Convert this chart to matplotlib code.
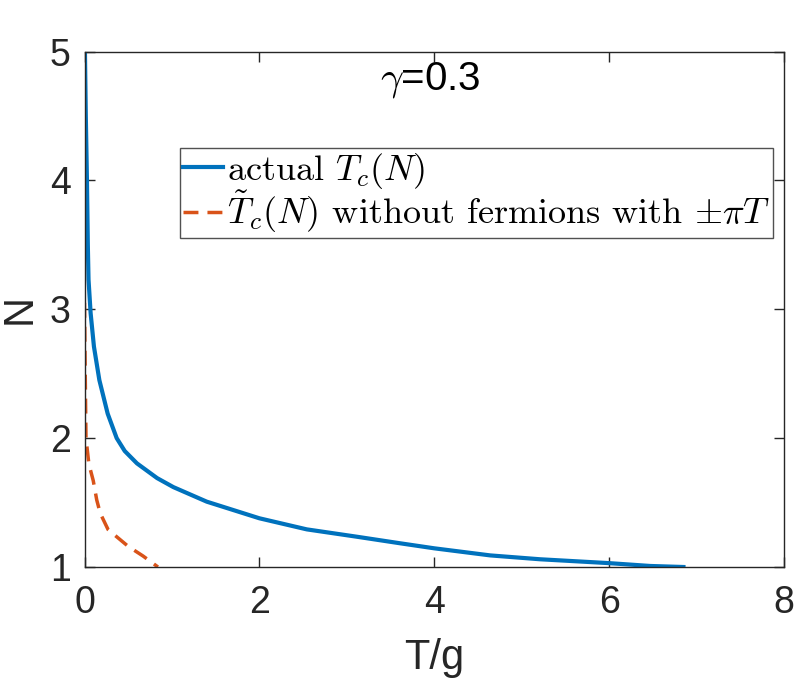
import matplotlib
matplotlib.use("Agg")
import matplotlib.pyplot as plt

plt.rcParams['mathtext.fontset'] = 'cm'
plt.rcParams['font.family'] = ['Liberation Sans', 'DejaVu Sans']
plt.rcParams['axes.unicode_minus'] = False

# Data
actual_N = [5.0, 4.5, 4.0, 3.5, 3.23, 2.97, 2.71, 2.45, 2.19, 2.0, 1.9, 1.804, 1.69, 1.62, 1.507,
            1.378, 1.292, 1.235, 1.184, 1.145, 1.09, 1.06, 1.03, 1.008, 1.0]
actual_T = [0.005, 0.015, 0.028, 0.038, 0.046, 0.07, 0.108, 0.17, 0.265, 0.368, 0.46, 0.6, 0.83, 1.016, 1.398,
            2.0, 2.542, 3.114, 3.61, 4.0, 4.64, 5.21, 6.0, 6.47, 6.85]

tilde_N = [3.05, 2.7, 2.4, 2.0, 1.8, 1.67, 1.52, 1.417, 1.29, 1.16, 1.085, 1.0]
tilde_T = [0.0, 0.005, 0.01, 0.017, 0.05, 0.1, 0.14, 0.18, 0.27, 0.5, 0.67, 0.84]

labels = [r'actual $T_c(N)$',
          r'$\tilde{T}_c(N)$ without fermions with ${\pm}\pi T$']
title_text = r'$\gamma$=0.3'
xticks = [0, 2, 4, 6, 8]
yticks = [1, 2, 3, 4, 5]

fig = plt.figure(figsize=(7.98, 6.85), dpi=100)
ax = fig.add_axes([84.5/798, 1 - 567/685, 699.5/798, 515.5/685])

ax.plot(actual_T, actual_N, color='#0072BD', lw=3, label=labels[0])
ax.plot(tilde_T, tilde_N, color='#D95319', lw=2.5, dashes=[4.3, 2.6], label=labels[1])

ax.set_xlim(0, 8)
ax.set_ylim(1, 5)
ax.set_xticks(xticks)
ax.set_yticks(yticks)

tc = '#262626'
for s in ax.spines.values():
    s.set_color(tc)
    s.set_linewidth(1.0)
ax.tick_params(direction='in', length=7, width=1.0, colors=tc, labelsize=27,
               top=True, right=True)
ax.tick_params(axis='x', pad=13)
ax.tick_params(axis='y', pad=10)

ax.set_xlabel('T/g', fontsize=30, color=tc, labelpad=12)
ax.set_ylabel('N', fontsize=30, color=tc, labelpad=7)

ax.text((430 - 84.5) / 699.5, (567 - 90) / 515.5, title_text, transform=ax.transAxes,
        fontsize=29, color='black', ha='center', va='baseline')

leg = ax.legend(loc='upper left', bbox_to_anchor=((180 - 84.5) / 699.5, (567 - 148) / 515.5),
                prop={'family': 'cmr10', 'size': 26}, frameon=True, fancybox=False,
                handlelength=1.1, handletextpad=0.12, borderpad=0.08, labelspacing=-0.05,
                borderaxespad=0)
leg.get_frame().set_edgecolor(tc)
leg.get_frame().set_linewidth(1.0)

fig.savefig('out.png', dpi=100)
